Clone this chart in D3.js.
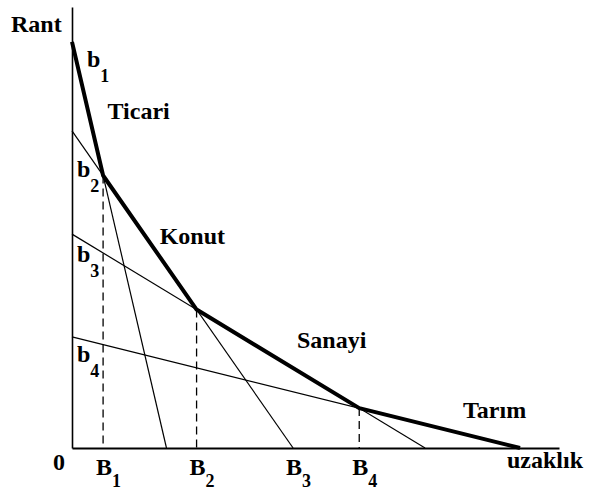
<!DOCTYPE html>
<html><head><meta charset="utf-8">
<script src="https://cdn.jsdelivr.net/npm/d3@7"></script>
<style>body{margin:0;background:#fff}svg{display:block}</style>
</head><body>
<script>
// Bid-rent lines: intercept on rent axis (a) and on distance axis (b)
const uses = ["Ticari", "Konut", "Sanayi", "Tarım"];
const rentIntercepts = [92.1, 71.9, 48.5, 25.2];
const distIntercepts = [19.4, 45.4, 72.5, 92.0];
const rentLabels = ["1", "2", "3", "4"];      // b subscripts
const distLabels = ["1", "2", "3", "4"];      // B subscripts

const W = 590, H = 492;
const x = d3.scaleLinear().domain([0, 100]).range([72, 559]);
const y = d3.scaleLinear().domain([0, 100]).range([448, 7]);

// layout (not data): label placement
const useLabelPos = [[7.3, 74.6], [18.0, 46.2], [46.2, 22.7], [80.3, 6.8]];
const bLabelLayout = [[87, 25], [77, 46], [77, 28], [77, 25]]; // [x px, offset below intercept]

const svg = d3.select("body").append("svg").attr("width", W).attr("height", H);
const font = "'Liberation Serif','Times New Roman',serif";
const FS = 24, SFS = 18;

const lines = uses.map((u, i) => ({name: u, a: rentIntercepts[i], b: distIntercepts[i]}));
const val = (l, xx) => l.a * (1 - xx / l.b);

// intersections of consecutive lines -> envelope
const breaks = [];
for (let i = 0; i < lines.length - 1; i++) {
  const l1 = lines[i], l2 = lines[i + 1];
  const s1 = l1.a / l1.b, s2 = l2.a / l2.b;
  const xi = (l1.a - l2.a) / (s1 - s2);
  breaks.push([xi, val(l1, xi)]);
}
const envelope = [[0, lines[0].a], ...breaks, [lines[lines.length - 1].b, 0]];

// thin lines
svg.selectAll("line.bid").data(lines).enter().append("line")
  .attr("x1", x(0)).attr("y1", d => y(d.a))
  .attr("x2", d => x(d.b)).attr("y2", y(0))
  .attr("stroke", "#000").attr("stroke-width", 1.2);

// dashed verticals at B1, B2, B4
svg.selectAll("line.drop").data(breaks).enter().append("line")
  .attr("x1", d => x(d[0])).attr("x2", d => x(d[0]))
  .attr("y1", d => y(d[1])).attr("y2", y(0))
  .attr("stroke", "#000").attr("stroke-width", 1.3).attr("stroke-dasharray", "8,5");

// envelope
svg.append("path").datum(envelope)
  .attr("d", d3.line().x(d => x(d[0])).y(d => y(d[1])))
  .attr("fill", "none").attr("stroke", "#000").attr("stroke-width", 4)
  .attr("stroke-linejoin", "round");

// axes
const xAxis = d3.axisBottom(x).tickValues([]).tickSizeOuter(0);
const yAxis = d3.axisLeft(y).tickValues([]).tickSizeOuter(0);
svg.append("g").attr("transform", `translate(0,${y(0)})`).call(xAxis)
  .select(".domain").attr("stroke", "#000").attr("stroke-width", 2);
svg.append("g").attr("transform", `translate(${x(0)},0)`).call(yAxis)
  .select(".domain").attr("stroke", "#000").attr("stroke-width", 1.6);

function sub(px, py, main, s, dy) {
  const el = svg.append("text").attr("x", px).attr("y", py)
    .attr("font-family", font).attr("font-weight", "bold").attr("font-size", FS).attr("fill", "#000");
  el.append("tspan").text(main);
  el.append("tspan").attr("font-size", SFS).attr("dy", dy).text(s);
  return el;
}
function txt(t, px, py) {
  svg.append("text").attr("x", px).attr("y", py).text(t)
    .attr("font-family", font).attr("font-weight", "bold").attr("font-size", FS).attr("fill", "#000");
}

txt("Rant", 11, 32);
txt("uzaklık", 507, 468);
txt("0", 53, 470);

// b labels along rent axis
lines.forEach((l, i) => {
  sub(bLabelLayout[i][0], y(l.a) + bLabelLayout[i][1], "b", rentLabels[i], 15);
});

// B labels along distance axis: B1,B2 at breaks, B3 at Konut intercept, B4 at last break
const bPos = [breaks[0][0], breaks[1][0], lines[1].b, breaks[2][0]];
bPos.forEach((p, i) => {
  sub(x(p) - 7, 475, "B", distLabels[i], 12);
});

// use names
lines.forEach((l, i) => txt(l.name, x(useLabelPos[i][0]), y(useLabelPos[i][1])));
</script>
</body></html>
